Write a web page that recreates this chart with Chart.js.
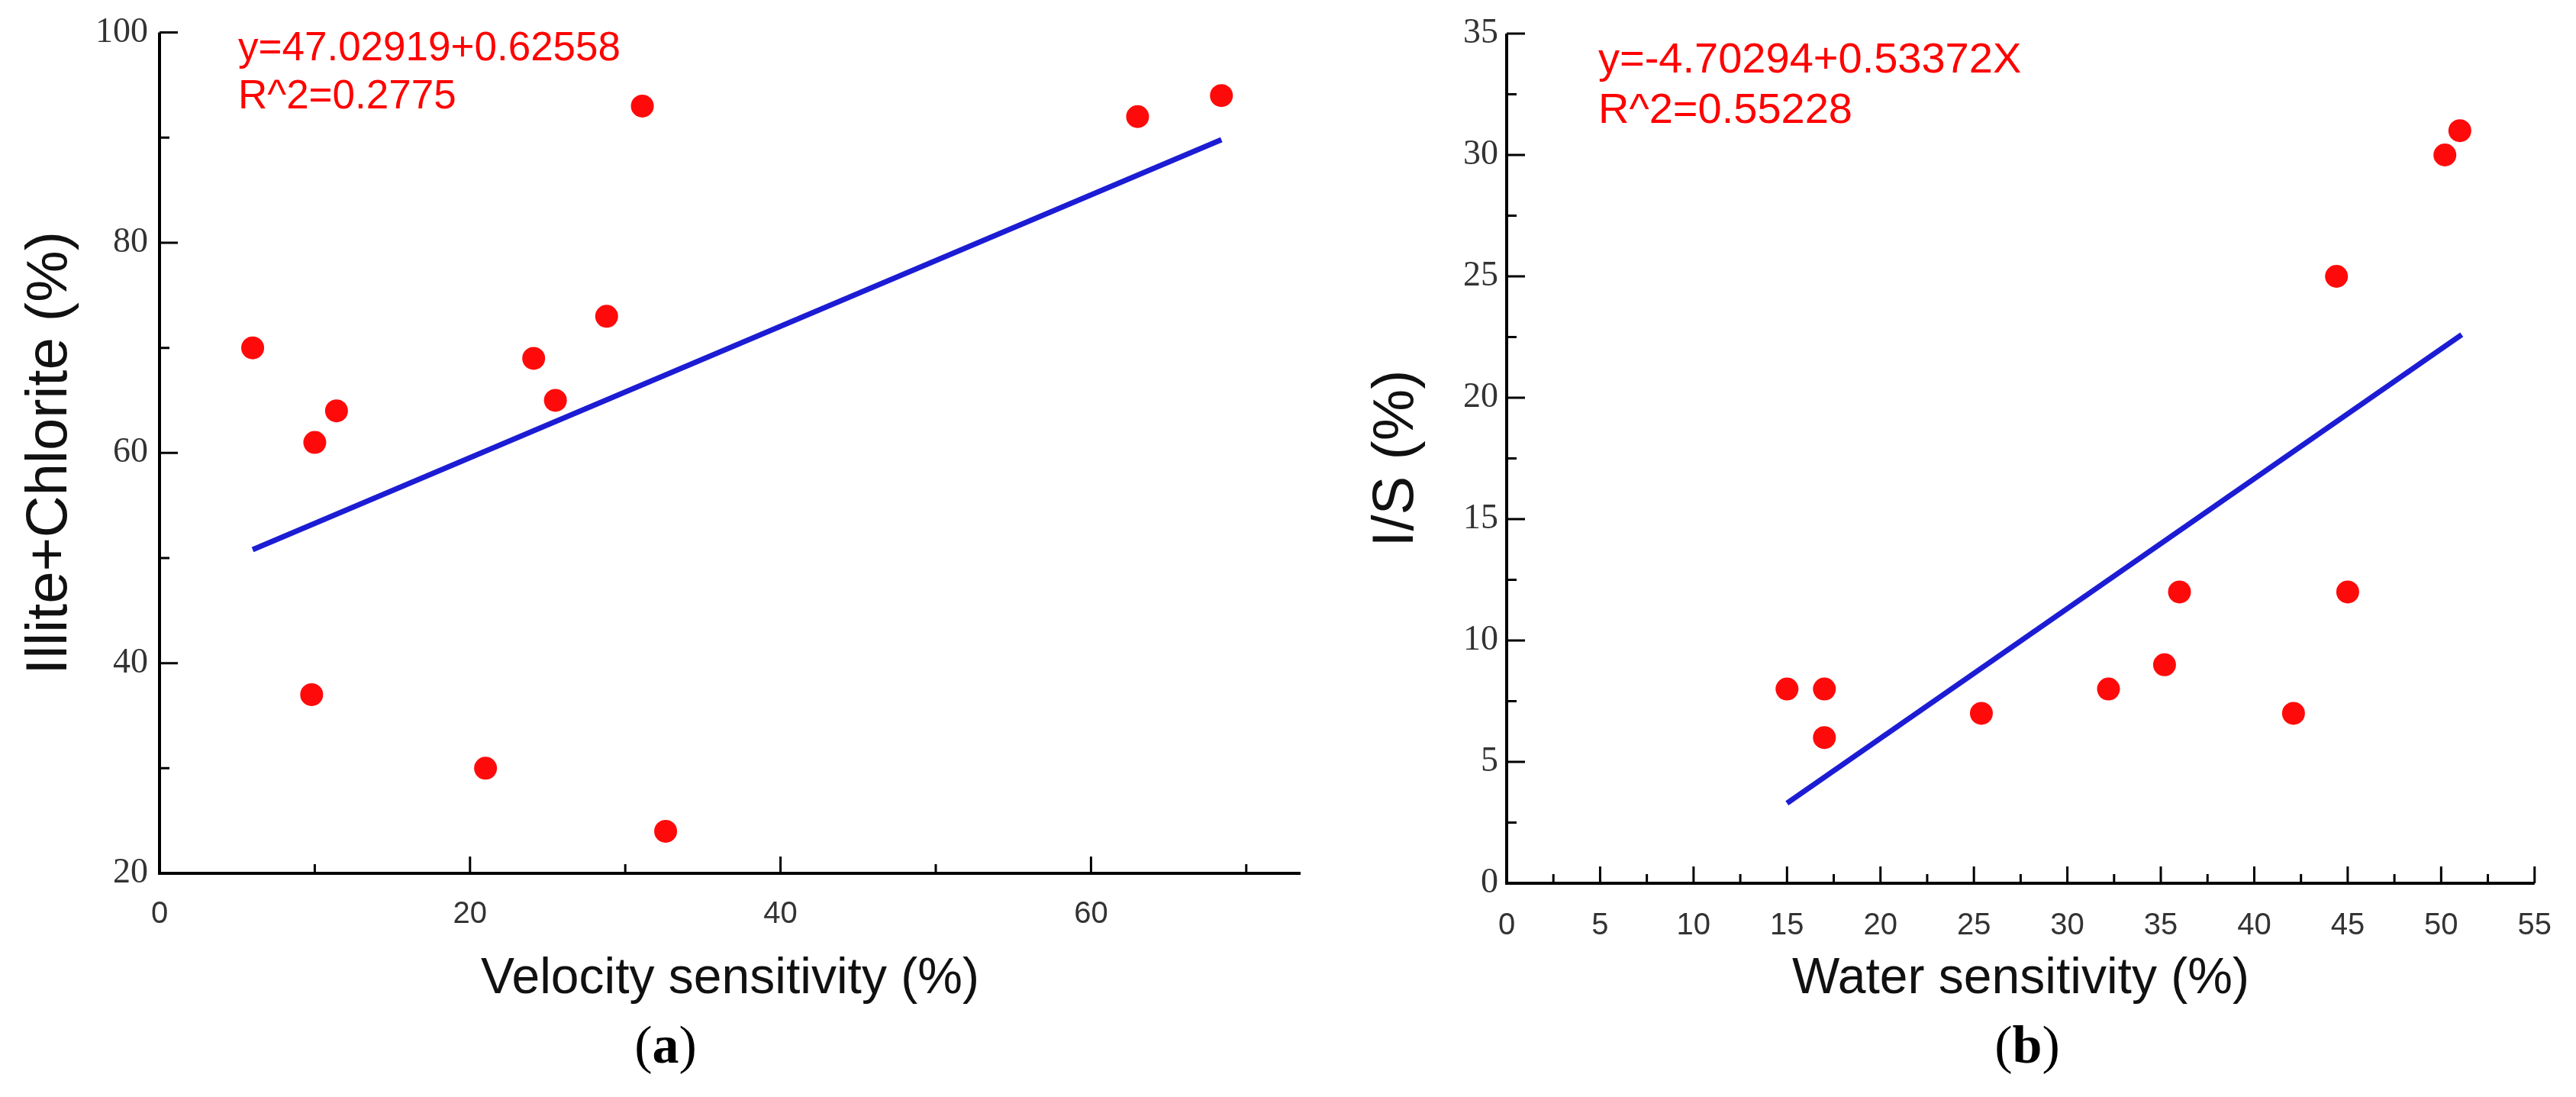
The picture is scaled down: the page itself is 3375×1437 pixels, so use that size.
<!DOCTYPE html>
<html><head><meta charset="utf-8">
<script src="https://cdn.jsdelivr.net/npm/chart.js@4.4.0/dist/chart.umd.min.js"></script>
<style>
html,body{margin:0;padding:0;background:#fff;width:3375px;height:1437px;overflow:hidden}
#ca{position:absolute;left:0;top:0}
#cb{position:absolute;left:1720px;top:0}
</style></head><body>
<canvas id="ca" width="1720" height="1437"></canvas>
<canvas id="cb" width="1655" height="1437"></canvas>
<script>
// ---- Panel (a) data ----
const velocitySensitivity = [6, 10, 11.4, 9.8, 21.0, 24.1, 25.5, 28.8, 31.1, 32.6, 63.0, 68.4];
const illiteChlorite      = [70, 61, 64, 37, 30, 69, 65, 73, 93, 24, 92, 94];
const fitAX = [6, 68.4];
const fitAY = [50.8, 89.8];
const xLabelsA = [0, 20, 40, 60];
const yLabelsA = [20, 40, 60, 80, 100];
const equationA = ['y=47.02919+0.62558', 'R^2=0.2775'];
const xTitleA = 'Velocity sensitivity (%)';
const yTitleA = 'Illite+Chlorite (%)';

// ---- Panel (b) data ----
const waterSensitivity = [15, 17, 17, 25.4, 32.2, 35.2, 36.0, 42.1, 44.4, 45, 50.2, 51.0];
const illiteSmectite   = [8, 8, 6, 7, 8, 9, 12, 7, 25, 12, 30, 31];
const fitBX = [15, 51.1];
const fitBY = [3.3, 22.6];
const xLabelsB = [0, 5, 10, 15, 20, 25, 30, 35, 40, 45, 50, 55];
const yLabelsB = [0, 5, 10, 15, 20, 25, 30, 35];
const equationB = ['y=-4.70294+0.53372X', 'R^2=0.55228'];
const xTitleB = 'Water sensitivity (%)';
const yTitleB = 'I/S (%)';

const toPts = (xs, ys) => xs.map((v, i) => ({x: v, y: ys[i]}));

const axesPlugin = {
  id: 'axesTicks',
  beforeDatasetsDraw(chart, args, o) {
    const {ctx, chartArea: {left, right, top, bottom}, scales: {x, y}} = chart;
    ctx.save();
    ctx.strokeStyle = '#000';
    ctx.lineWidth = 4;
    ctx.lineJoin = 'miter';
    ctx.beginPath();
    ctx.moveTo(left, top);
    ctx.lineTo(left, bottom);
    ctx.lineTo(right, bottom);
    ctx.stroke();
    ctx.lineWidth = 3;
    ctx.beginPath();
    x.ticks.forEach(t => {
      if (t.value === x.min) return;
      const px = x.getPixelForValue(t.value);
      const len = o.xMajor.includes(t.value) ? 22 : 12;
      ctx.moveTo(px, bottom); ctx.lineTo(px, bottom - len);
    });
    y.ticks.forEach(t => {
      if (t.value === y.min) return;
      const py = y.getPixelForValue(t.value);
      const len = o.yMajor.includes(t.value) ? 24 : 13;
      ctx.moveTo(left, py); ctx.lineTo(left + len, py);
    });
    ctx.stroke();
    ctx.restore();
  },
  afterDraw(chart, args, o) {
    const ctx = chart.ctx;
    ctx.save();
    ctx.fillStyle = '#ff0000';
    ctx.font = o.eqSize + 'px "Liberation Sans", Arial, sans-serif';
    ctx.textBaseline = 'middle';
    ctx.textAlign = 'left';
    o.eq.forEach((s, i) => ctx.fillText(s, o.eqX, o.eqY[i]));
    // panel label "(a)" with bold letter
    const reg = '70px "Liberation Serif", "Times New Roman", serif';
    const bold = 'bold 70px "Liberation Serif", "Times New Roman", serif';
    ctx.fillStyle = '#000';
    ctx.font = reg; const w1 = ctx.measureText('(').width;
    ctx.font = bold; const w2 = ctx.measureText(o.letter).width;
    let x0 = o.labX - (2 * w1 + w2) / 2;
    ctx.font = reg; ctx.fillText('(', x0, o.labY);
    ctx.font = bold; ctx.fillText(o.letter, x0 + w1, o.labY);
    ctx.font = reg; ctx.fillText(')', x0 + w1 + w2, o.labY);
    ctx.restore();
  }
};

function makeChart(id, cfg) {
  const majorCheck = (arr) => (v) => arr.includes(v) ? String(v) : '';
  return new Chart(document.getElementById(id), {
    type: 'scatter',
    data: {
      datasets: [
        {
          data: toPts(cfg.xs, cfg.ys),
          showLine: false,
          pointRadius: 15,
          pointHoverRadius: 15,
          pointBackgroundColor: '#ff0a0a',
          pointBorderWidth: 0,
          order: 1
        },
        {
          data: toPts(cfg.fx, cfg.fy),
          showLine: true,
          borderColor: '#1c1cd4',
          borderWidth: 7,
          pointRadius: 0,
          fill: false,
          order: 2
        }
      ]
    },
    options: {
      responsive: false,
      devicePixelRatio: 1,
      animation: false,
      layout: {padding: {top: cfg.padTop, right: cfg.padRight, left: 0, bottom: 0}},
      plugins: {
        legend: {display: false},
        tooltip: {enabled: false},
        axesTicks: {xMajor: cfg.xLabels, yMajor: cfg.yLabels, eq: cfg.eq, eqX: cfg.eqX, eqY: cfg.eqY,
                    eqSize: cfg.eqSize, letter: cfg.letter, labX: cfg.labX, labY: 1374}
      },
      scales: {
        x: {
          type: 'linear', min: cfg.xmin, max: cfg.xmax,
          grid: {display: false, drawTicks: false},
          border: {display: false},
          ticks: {stepSize: cfg.xstep, includeBounds: false, autoSkip: false, maxRotation: 0,
                  padding: cfg.xPad, color: '#333',
                  font: {family: '"Liberation Sans", Arial, sans-serif', size: 40},
                  callback: majorCheck(cfg.xLabels)},
          title: {display: true, text: cfg.xTitle, color: '#111',
                  font: {family: '"Liberation Sans", Arial, sans-serif', size: 66},
                  padding: {top: 0, bottom: 115}},
          afterFit: (s) => { s.height = cfg.xH; }
        },
        y: {
          type: 'linear', min: cfg.ymin, max: cfg.ymax,
          grid: {display: false, drawTicks: false},
          border: {display: false},
          ticks: {stepSize: cfg.ystep, includeBounds: false, autoSkip: false,
                  padding: cfg.yPad, color: '#333',
                  font: {family: '"Liberation Serif", "Times New Roman", serif', size: 46},
                  callback: majorCheck(cfg.yLabels)},
          title: {display: true, text: cfg.yTitle, color: '#111',
                  font: {family: '"Liberation Sans", Arial, sans-serif', size: 76},
                  padding: {top: cfg.yTitlePad, bottom: 0}},
          afterFit: (s) => { s.width = cfg.yW; }
        }
      }
    },
    plugins: [axesPlugin]
  });
}

makeChart('ca', {
  xs: velocitySensitivity, ys: illiteChlorite, fx: fitAX, fy: fitAY,
  xmin: 0, xmax: 73.5, xstep: 10, ymin: 20, ymax: 100, ystep: 10,
  xLabels: xLabelsA, yLabels: yLabelsA, xTitle: xTitleA, yTitle: yTitleA,
  padTop: 40, padRight: 16, xH: 293, yW: 209, xPad: 30, yPad: 15, yTitlePad: 20,
  eq: equationA, eqSize: 53, eqX: 312, eqY: [64, 127], letter: 'a', labX: 872
});

makeChart('cb', {
  xs: waterSensitivity, ys: illiteSmectite, fx: fitBX, fy: fitBY,
  xmin: 0, xmax: 55, xstep: 2.5, ymin: 0, ymax: 35, ystep: 2.5,
  xLabels: xLabelsB, yLabels: yLabelsB, xTitle: xTitleB, yTitle: yTitleB,
  padTop: 44, padRight: 27, xH: 280, yW: 254, xPad: 32, yPad: 11, yTitlePad: 64,
  eq: equationB, eqSize: 56, eqX: 374, eqY: [80, 146], letter: 'b', labX: 936
});
</script>
</body></html>
